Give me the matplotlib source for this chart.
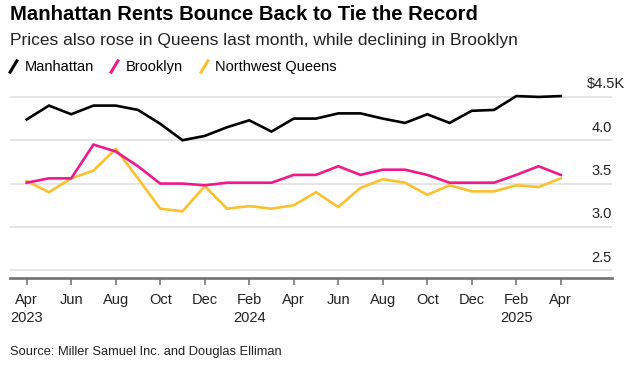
import numpy as np
import matplotlib.pyplot as plt
from matplotlib.lines import Line2D
from matplotlib import transforms

plt.rcParams['font.family'] = ['Liberation Sans', 'DejaVu Sans']

#=============================================================================
# monthly median rents, $K, Apr 2023 .. Apr 2025
months    = ['Apr','May','Jun','Jul','Aug','Sep','Oct','Nov','Dec','Jan','Feb','Mar',
             'Apr','May','Jun','Jul','Aug','Sep','Oct','Nov','Dec','Jan','Feb','Mar','Apr']
manhattan = [4.24,4.40,4.30,4.40,4.40,4.35,4.19,4.00,4.05,4.15,4.23,4.10,
             4.25,4.25,4.31,4.31,4.25,4.20,4.30,4.20,4.34,4.35,4.51,4.50,4.51]
brooklyn  = [3.51,3.56,3.56,3.95,3.87,3.70,3.50,3.50,3.48,3.51,3.51,3.51,
             3.60,3.60,3.70,3.60,3.66,3.66,3.60,3.51,3.51,3.51,3.60,3.70,3.60]
queens    = [3.53,3.40,3.56,3.65,3.90,3.56,3.21,3.18,3.47,3.21,3.24,3.21,
             3.25,3.40,3.23,3.45,3.55,3.51,3.37,3.48,3.41,3.41,3.48,3.46,3.56]

series_names  = ['Manhattan','Brooklyn','Northwest Queens']
series_colors = ['#000000','#f0198c','#fbc02d']

xtick_idx    = list(range(0,25,2))
xtick_labels = ['Apr\n2023','Jun','Aug','Oct','Dec','Feb\n2024','Apr','Jun','Aug',
                'Oct','Dec','Feb\n2025','Apr']
ytick_vals   = [2.5,3.0,3.5,4.0,4.5]
ytick_labels = ['2.5','3.0','3.5','4.0','$4.5K']
#=============================================================================

fig = plt.figure(figsize=(6.4,3.69),dpi=100)
ax  = fig.add_axes([10/640, 91/369, 602/640, 188/369])

x = np.arange(len(months))
for vals,c in zip([manhattan,brooklyn,queens][::-1],series_colors[::-1]):
    ax.plot(x,vals,color=c,lw=1.9,solid_joinstyle='miter',zorder=3)

ax.set_xlim(-0.75,26.3)
ax.set_ylim(2.41,4.58)

for v in ytick_vals:
    ax.axhline(v,color='#e3e3e3',lw=1.3,zorder=1)

# y labels sit above the gridlines, right side; the "K" hangs past the edge
ax.set_yticks([])
for v,lab in zip(ytick_vals,ytick_labels):
    xoff = 9.5 if lab.endswith('K') else 0
    tr   = transforms.offset_copy(ax.get_yaxis_transform(),fig=fig,x=xoff,y=4,units='points')
    ax.text(1.0,v,lab,transform=tr,ha='right',va='bottom',fontsize=10.5,color='#222222')

ax.set_xticks(xtick_idx)
ax.set_xticklabels(xtick_labels,fontsize=10.5,color='#222222',linespacing=1.35)
ax.tick_params(axis='x',length=5,width=1.2,color='#777777',pad=6)

for s in ['top','left','right']:
    ax.spines[s].set_visible(False)
ax.spines['bottom'].set_color('#777777')
ax.spines['bottom'].set_linewidth(2)

fig.text(10/640,1-15/369,'Manhattan Rents Bounce Back to Tie the Record',
         fontsize=14.6,fontweight='bold',va='center',ha='left')
fig.text(10/640,1-41/369,'Prices also rose in Queens last month, while declining in Brooklyn',
         fontsize=12.5,va='center',ha='left',color='#222222')

slash = [(-0.6,-1),(0.6,1)]
handles = [Line2D([],[],color=c,marker=slash,linestyle='none',markersize=10,
                  markeredgewidth=2.2) for c in series_colors]
fig.legend(handles,series_names,loc='center left',bbox_to_anchor=(0.0,1-67/369),
           ncol=3,frameon=False,fontsize=10.5,handlelength=1.0,handletextpad=0.3,
           columnspacing=0.9,borderaxespad=0)

fig.text(10/640,1-352/369,'Source: Miller Samuel Inc. and Douglas Elliman',
         fontsize=9.3,va='center',ha='left',color='#222222')

fig.savefig('out.png',dpi=100)
